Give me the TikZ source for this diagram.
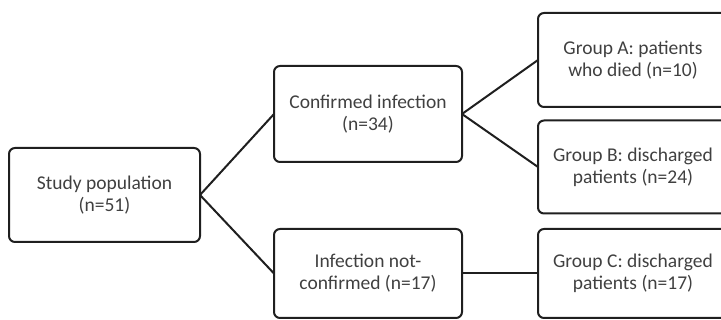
\documentclass[tikz,border=0pt]{standalone}
\usepackage{fontspec}
\setmainfont{Carlito}
\begin{document}
\begin{tikzpicture}[x=1pt,y=-1pt,
  box/.style={draw=black!88, line width=2pt, rounded corners=6pt, inner sep=0pt, outer sep=0pt,
    align=center, text=black!75, font=\fontsize{19.5}{22}\selectfont},
  link/.style={draw=black!88, line width=2pt}]
\useasboundingbox (0,0) rectangle (721,320);
\clip (0,0) rectangle (721,320);
\node[box, minimum width=191pt, minimum height=94pt] (study) at (104.5,195) {Study population\\(n=51)};
\node[box, minimum width=188pt, minimum height=96pt] (conf) at (368,114) {Confirmed infection\\(n=34)};
\node[box, minimum width=188pt, minimum height=89pt] (notc) at (368,273.5) {Infection not-\\confirmed (n=17)};
\node[box, minimum width=190pt, minimum height=94pt] (gA) at (633,60) {Group A: patients\\who died (n=10)};
\node[box, minimum width=190pt, minimum height=93pt] (gB) at (633,167) {Group B: discharged\\patients (n=24)};
\node[box, minimum width=190pt, minimum height=89pt] (gC) at (633,273.5) {Group C: discharged\\patients (n=17)};
\draw[link] (study.east) -- (conf.west);
\draw[link] (study.east) -- (notc.west);
\draw[link] (conf.east) -- (gA.west);
\draw[link] (conf.east) -- (gB.west);
\draw[link] (notc.east) -- (gC.west);
\end{tikzpicture}
\end{document}
